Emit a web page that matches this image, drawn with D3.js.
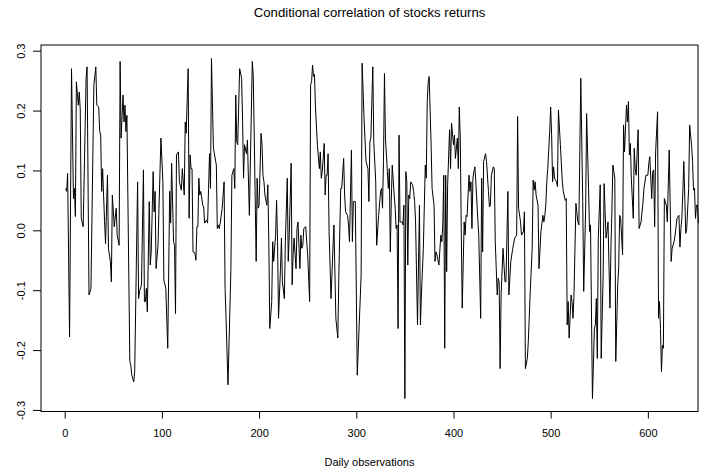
<!DOCTYPE html>
<html>
<head>
<meta charset="utf-8">
<script src="https://cdn.jsdelivr.net/npm/d3@7/dist/d3.min.js"></script>
<style>
	body { margin: 0; background: #fff; }
	text { font-family: "Liberation Sans", Arial, Helvetica, sans-serif; fill: #000; }
</style>
</head>
<body>
<svg id="chart" width="716" height="472"></svg>
<script>

var obs = [
	1,2,3,5,7,9,10,11,12,13,14,15,16,17,19,22,23,25,27,30,32,33,35,36,37,38,39,40,41,42,44,45,47,48,49,51,53,54,56,57,58,
	60,61,62,63,64,67,68,69,71,72,75,76,77,79,81,82,83,84,85,87,88,89,91,92,93,94,96,97,99,101,102,104,106,108,109,110,112,113,114,115,117,118,120,121,123,124,
	125,127,128,129,130,131,132,134,135,136,137,138,139,140,142,143,144,146,147,148,149,150,151,153,156,157,158,159,160,162,164,165,166,168,171,172,174,175,176,177,178,180,182,183,184,185,187,188,
	190,193,194,195,197,198,199,200,202,203,204,205,206,208,209,210,211,213,214,215,217,218,219,220,222,223,224,226,227,229,230,231,233,234,235,236,238,239,240,242,243,244,245,246,248,249,250,252,253,254,255,
	256,257,258,260,262,263,264,265,267,268,269,270,271,272,274,276,277,279,281,282,284,285,287,288,289,291,292,293,295,296,297,299,301,303,305,306,308,310,312,313,314,315,317,318,320,321,
	323,325,326,327,328,329,330,332,333,334,335,336,337,339,340,341,342,343,344,345,347,348,349,350,351,352,353,354,355,356,358,359,360,361,363,365,366,367,369,371,372,373,374,375,377,378,380,381,382,383,385,387,
	388,389,390,391,392,393,394,396,397,398,400,401,402,404,405,406,407,408,409,411,412,413,414,416,417,418,419,420,421,422,423,425,426,428,429,430,431,433,434,436,437,438,439,441,442,443,445,446,447,448,449,451,453,
	454,456,457,459,461,463,465,466,467,469,470,472,473,474,476,477,479,481,482,483,484,485,487,488,490,491,492,493,494,495,496,497,499,500,501,502,503,504,506,507,508,510,512,513,515,516,517,518,519,
	521,522,523,524,526,528,529,531,533,534,536,537,539,540,541,543,545,546,547,548,549,551,552,554,555,557,558,559,561,562,563,564,566,567,569,570,571,572,574,575,576,578,579,580,581,582,583,585,
	586,587,588,590,591,593,595,596,598,600,601,602,604,605,606,607,608,610,611,612,613,614,615,616,617,619,620,622,624,625,627,628,630,632,633,634,635,636,637,639,640,642,643,645,646,647,648,649,650,651,652
];

//Conditional correlation at each of those days
var corr = [
	0.070,0.065,0.095,-0.178,0.270,0.053,0.070,0.023,0.248,0.229,0.209,0.231,0.201,0.020,0.006,0.254,0.273,-0.108,-0.097,0.243,0.273,0.209,0.206,0.165,0.159,0.065,0.103,0.059,0.015,-0.022,0.092,-0.030,-0.052,-0.086,0.059,0.006,0.037,-0.008,-0.025,0.282,0.154,
	0.226,0.181,0.209,0.165,0.192,-0.219,-0.225,-0.242,-0.253,-0.236,0.081,-0.114,-0.102,-0.091,0.101,-0.119,-0.119,-0.097,-0.136,0.048,-0.058,-0.036,0.098,0.031,0.065,-0.064,-0.025,0.037,0.154,0.081,-0.083,-0.097,-0.197,0.065,0.012,0.112,-0.019,-0.025,-0.139,0.126,0.131,0.081,0.067,0.103,0.059,0.181,
	0.162,0.270,0.020,0.126,0.103,0.103,-0.036,-0.038,-0.050,0.006,0.006,0.087,0.059,0.065,0.042,0.039,0.012,0.017,0.012,0.070,0.128,0.070,0.287,0.137,0.109,0.003,0.009,0.003,0.012,0.037,0.081,-0.097,-0.147,-0.258,-0.064,0.092,0.103,0.070,0.226,0.148,0.143,0.270,0.254,0.184,0.087,0.143,0.128,0.151,
	0.025,0.282,0.259,0.159,-0.052,0.087,0.037,0.042,0.162,0.143,0.092,0.081,0.059,0.042,0.076,-0.019,-0.164,-0.119,-0.019,-0.052,-0.008,0.050,-0.019,-0.147,-0.064,-0.013,-0.086,-0.114,-0.019,0.087,-0.052,-0.008,0.112,-0.091,-0.041,-0.013,-0.064,0.003,0.014,-0.064,-0.008,-0.030,-0.025,0.003,0.006,-0.019,-0.041,-0.119,0.243,0.248,0.276,
	0.257,0.260,0.206,0.142,0.103,0.131,0.087,0.098,0.145,0.059,0.092,0.092,0.128,-0.002,-0.114,-0.030,0.009,-0.147,-0.180,-0.080,0.070,0.070,0.120,0.059,0.031,0.025,0.009,-0.019,0.134,-0.019,0.048,0.048,-0.242,-0.158,-0.075,0.279,0.187,0.115,0.103,0.048,0.148,0.154,0.273,0.148,0.081,-0.025,
	0.025,0.065,0.070,0.037,0.115,0.262,0.154,0.098,0.070,0.103,-0.036,0.048,0.109,0.059,0.037,0.003,0.009,-0.164,0.159,0.014,0.014,0.009,0.042,-0.281,0.098,0.081,-0.058,0.059,0.053,0.081,0.076,0.065,0.048,0.014,-0.158,0.042,-0.158,-0.108,-0.030,0.109,0.087,0.215,0.248,0.257,0.142,0.070,0.042,-0.052,-0.036,-0.041,-0.058,-0.008,
	-0.019,0.009,0.092,-0.197,0.092,-0.069,0.076,0.168,0.103,0.179,0.143,0.159,0.120,0.154,0.103,0.206,0.154,0.003,-0.130,0.014,-0.008,0.025,0.023,0.092,0.065,0.081,0.003,0.087,0.098,0.106,0.081,0.020,-0.008,-0.147,0.087,-0.036,0.115,0.128,0.115,0.065,0.039,0.042,0.092,0.106,0.103,-0.019,-0.108,-0.080,-0.086,-0.231,-0.108,-0.030,-0.086,
	-0.086,0.065,-0.108,-0.052,-0.030,-0.013,-0.008,0.190,0.037,0.014,-0.008,-0.002,0.031,-0.231,-0.214,-0.186,-0.102,-0.030,0.084,0.067,0.081,0.059,0.042,-0.064,-0.002,0.012,0.025,0.014,0.025,0.042,0.081,0.103,0.165,0.206,0.159,0.081,0.106,0.087,0.081,0.073,0.201,0.143,0.081,0.065,0.050,0.053,-0.158,-0.119,-0.180,
	-0.108,-0.119,-0.147,-0.108,0.045,0.014,0.009,0.254,0.048,-0.102,0.037,0.195,0.070,-0.002,0.009,-0.281,-0.164,-0.158,-0.114,-0.214,-0.013,0.076,-0.214,-0.075,0.078,-0.013,-0.002,0.014,-0.130,-0.030,0.031,0.109,0.087,-0.219,-0.091,-0.063,0.025,0.020,-0.041,0.176,0.131,0.209,0.181,0.215,0.126,0.145,0.087,0.020,
	0.137,0.103,0.092,0.168,0.003,0.014,0.047,0.070,0.092,0.092,0.112,0.123,0.053,0.098,0.101,0.006,0.131,0.198,-0.147,-0.119,-0.164,-0.236,-0.192,-0.197,0.053,0.042,0.014,0.134,-0.052,-0.030,-0.019,-0.008,0.020,0.025,-0.028,0.003,0.020,0.065,0.115,-0.005,0.003,0.070,0.176,0.142,0.115,0.067,0.070,0.020,0.042,0.042,0.012
];

var xTicks = [0, 100, 200, 300, 400, 500, 600];
var yTicks = [-0.3, -0.2, -0.1, 0.0, 0.1, 0.2, 0.3];
var title = "Conditional correlation of stocks returns";
var xLabel = "Daily observations";

var svg = d3.select('#chart');

//plot region, same margins as the R device
var pLeft = 41, pRight = 698, pTop = 45, pBottom = 411.5;

var x = d3.scaleLinear().domain([-24.4, 651.6]).range([pLeft, pRight]);
var y = d3.scaleLinear().domain([-0.3026, 0.3095]).range([pBottom, pTop]);

var points = obs.map(function(d, i) { return [d, corr[i]]; });

//the series
svg.append('path')
	.datum(points)
	.attr('fill', 'none')
	.attr('stroke', '#000')
	.attr('stroke-width', 1)
	.attr('stroke-linejoin', 'round')
	.attr('d', d3.line().x(function(d) { return x(d[0]); }).y(function(d) { return y(d[1]); }));

//box round the plot
svg.append('rect')
	.attr('x', pLeft)
	.attr('y', pTop)
	.attr('width', pRight - pLeft)
	.attr('height', pBottom - pTop)
	.attr('fill', 'none')
	.attr('stroke', '#000')
	.attr('stroke-width', 1);

//x axis
var gx = svg.append('g')
	.attr('transform', 'translate(0,' + pBottom + ')')
	.call(d3.axisBottom(x).tickValues(xTicks).tickSize(7).tickFormat(d3.format('d')));
gx.select('.domain').remove();
gx.selectAll('text').attr('font-size', 11).attr('font-family', null).attr('dy', '0.35em').attr('y', 21.5);
gx.selectAll('line').attr('stroke', '#000');

//y axis, labels turned like R does
var gy = svg.append('g')
	.attr('transform', 'translate(' + pLeft + ',0)')
	.call(d3.axisLeft(y).tickValues(yTicks).tickSize(8).tickFormat(function(d) { return d.toFixed(1); }));
gy.select('.domain').remove();
gy.selectAll('line').attr('stroke', '#000');
gy.selectAll('text')
	.attr('font-size', 11)
	.attr('font-family', null)
	.attr('x', null)
	.attr('dy', null)
	.attr('text-anchor', 'middle')
	.attr('transform', 'translate(-16.5,0) rotate(-90)');

//title and axis label
svg.append('text')
	.attr('x', (pLeft + pRight) / 2)
	.attr('y', 17)
	.attr('text-anchor', 'middle')
	.attr('font-size', 13.2)
	.text(title);

svg.append('text')
	.attr('x', (pLeft + pRight) / 2)
	.attr('y', 466)
	.attr('text-anchor', 'middle')
	.attr('font-size', 11)
	.text(xLabel);

</script>
</body>
</html>
